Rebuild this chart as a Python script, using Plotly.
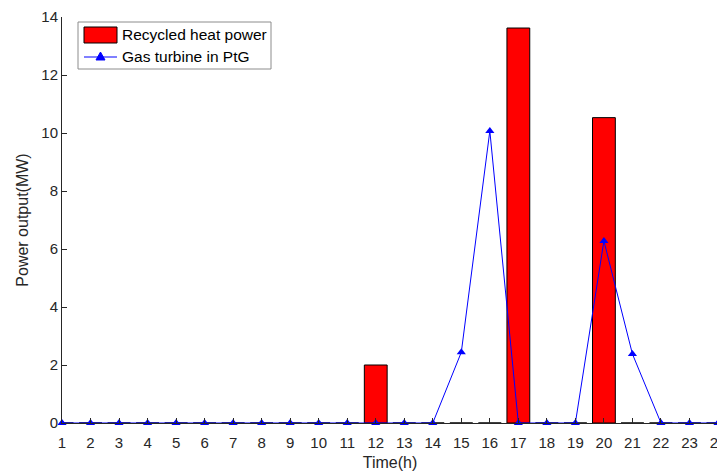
import plotly.graph_objects as go

hours = list(range(1, 25))
recycled_heat = [0, 0, 0, 0, 0, 0, 0, 0, 0, 0, 0, 2.0, 0, 0, 0, 0, 13.62, 0, 0, 10.53, 0, 0, 0, 0]
gas_turbine = [0, 0, 0, 0, 0, 0, 0, 0, 0, 0, 0, 0, 0, 0, 2.44, 10.07, 0, 0, 0, 6.28, 2.38, 0, 0, 0]
y_ticks = [0, 2, 4, 6, 8, 10, 12, 14]
series_names = ["Recycled heat power", "Gas turbine in PtG"]

font = "Liberation Sans, Arial, sans-serif"
txt = "#262626"

fig = go.Figure()
fig.add_trace(go.Bar(
    x=hours, y=recycled_heat, name=series_names[0], width=0.8,
    marker=dict(color="#ff0000", line=dict(color="#000000", width=1)),
))
fig.add_trace(go.Scatter(
    x=hours, y=gas_turbine, name=series_names[1], mode="lines+markers",
    line=dict(color="#0000ff", width=1),
    marker=dict(symbol="triangle-up", size=8, color="#0000ff"),
    cliponaxis=False,
))

# page body has an 8px margin; plot area in page pixels: x 62..718, y 17..423
PX0, PX1, PY0, PY1 = 62, 718, 423, 17
def px(x):
    return (x - PX0) / (PX1 - PX0)
def py(y):
    return (PY0 - y) / (PY0 - PY1)

shapes = [
    dict(type="rect", xref="paper", yref="paper", x0=px(78), x1=px(271), y0=py(69), y1=py(22),
         line=dict(color="#8c8c8c", width=1), fillcolor="white", layer="above"),
    dict(type="rect", xref="paper", yref="paper", x0=px(84), x1=px(117), y0=py(43), y1=py(27),
         line=dict(color="#000000", width=1), fillcolor="#ff0000", layer="above"),
    dict(type="line", xref="paper", yref="paper", x0=px(84), x1=px(117), y0=py(57), y1=py(57),
         line=dict(color="#0000ff", width=1), layer="above"),
    dict(type="path", xref="paper", yref="paper",
         path="M %f %f L %f %f L %f %f Z" % (px(100.5), py(52), px(96), py(60), px(105), py(60)),
         line=dict(color="#0000ff", width=1), fillcolor="#0000ff", layer="above"),
]
annotations = [
    dict(xref="paper", yref="paper", x=px(120), y=py(35), xanchor="left", yanchor="middle",
         text=series_names[0], showarrow=False, font=dict(size=15.5, color="#000000")),
    dict(xref="paper", yref="paper", x=px(120), y=py(57), xanchor="left", yanchor="middle",
         text=series_names[1], showarrow=False, font=dict(size=15.5, color="#000000")),
]

fig.update_layout(
    width=717, height=468,
    margin=dict(l=54, r=7, t=9, b=53, autoexpand=False),
    plot_bgcolor="white", paper_bgcolor="white",
    font=dict(family=font, size=15, color=txt),
    showlegend=False,
    shapes=shapes, annotations=annotations,
    bargap=0.2,
)
fig.update_xaxes(
    range=[1, 24], tickvals=hours, ticktext=[str(h) for h in hours],
    showline=True, linecolor="#262626", linewidth=1,
    ticks="inside", ticklen=5, tickcolor="#262626",
    showgrid=False, zeroline=False, mirror=False, automargin=False,
    ticklabelstandoff=6, ticklabeloverflow="allow",
    title=dict(text="Time(h)", font=dict(size=16, color=txt), standoff=6),
    tickfont=dict(size=15),
)
fig.update_yaxes(
    range=[0, 14], tickvals=y_ticks,
    showline=True, linecolor="#262626", linewidth=1,
    ticks="inside", ticklen=5, tickcolor="#262626",
    showgrid=False, zeroline=False, mirror=False, automargin=False,
    title=dict(text="Power output(MW)", font=dict(size=16, color=txt), standoff=8),
    tickfont=dict(size=15),
)

fig.write_html("out.html")
